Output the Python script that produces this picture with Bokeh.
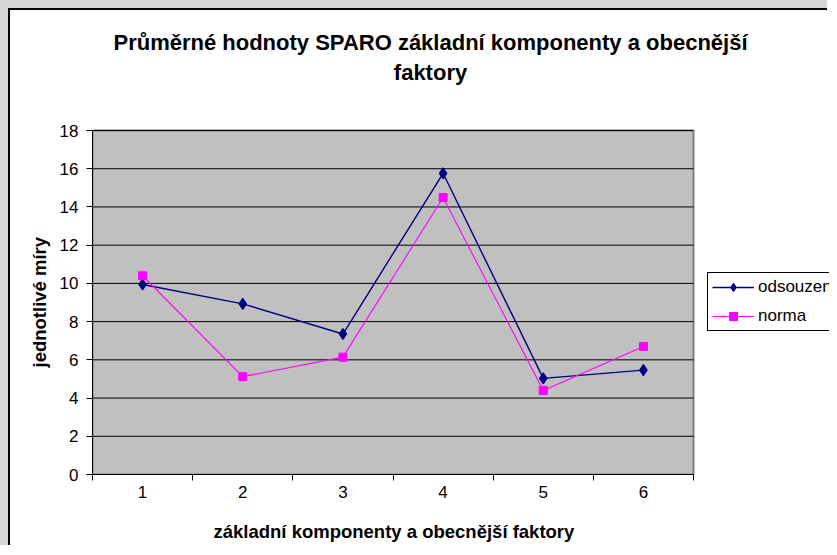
from bokeh.plotting import figure
from bokeh.layouts import column
from bokeh.models import (Range1d, FixedTicker, Legend, LegendItem, Label, BoxAnnotation, Title)
from bokeh.embed import file_html
from bokeh.resources import INLINE

# ---- data ----
categories = ["1", "2", "3", "4", "5", "6"]
odsouzeni = [9.94, 8.93, 7.35, 15.76, 5.03, 5.46]
norma = [10.40, 5.12, 6.14, 14.49, 4.40, 6.70]
y_ticks = [0, 2, 4, 6, 8, 10, 12, 14, 16, 18]

title_line1 = "Průměrné hodnoty SPARO základní komponenty a obecnější"
title_line2 = "faktory"
x_title = "základní komponenty a obecnější faktory"
y_title = "jednotlivé míry"

FONT = "Liberation Sans"

# ---- layout (pixels) ----
W, H = 819, 537            # canvas size
ML, MB = 82, 73            # left / bottom borders
PLOT_W, PLOT_H = 601, 344  # visible plot-area size
frame_w = W - ML
frame_h = H - MB

xs = list(range(1, len(categories) + 1))
x0, x1 = 0.5, len(categories) + 0.5
y0, y1 = y_ticks[0], y_ticks[-1]
x_end = x0 + (x1 - x0) * frame_w / PLOT_W
y_end = y0 + (y1 - y0) * frame_h / PLOT_H

p = figure(width=W, height=H, output_backend="svg", toolbar_location=None,
           x_range=Range1d(x0, x_end), y_range=Range1d(y0, y_end),
           min_border_left=ML, min_border_right=0, min_border_top=0,
           min_border_bottom=MB)
p.styles = {"border-left": "2px solid #000000", "border-top": "2px solid #000000"}
p.background_fill_color = "#FFFFFF"
p.border_fill_color = "#FFFFFF"
p.outline_line_color = None
p.xgrid.grid_line_color = None
p.ygrid.grid_line_color = None

# plot area
p.add_layout(BoxAnnotation(left=x0, right=x1, bottom=y0, top=y1,
                           fill_color="#C0C0C0", fill_alpha=1,
                           line_color="#808080", line_width=2, line_alpha=1,
                           level="underlay"))
p.segment(x0=[x0] * len(y_ticks), x1=[x1] * len(y_ticks), y0=y_ticks, y1=y_ticks,
          line_color="#000000", line_width=1)

# chart title (two lines)
for txt, yy in ((title_line1, 432), (title_line2, 402)):
    p.add_layout(Label(x=338, y=yy, x_units="screen", y_units="screen", text=txt,
                       text_align="center", text_baseline="alphabetic",
                       text_font=FONT, text_font_size="22px", text_font_style="bold",
                       text_color="#000000"))

# x axis
p.xaxis.bounds = (x0, x1)
p.xaxis.ticker = FixedTicker(ticks=xs, minor_ticks=[x - 0.5 for x in xs] + [x1])
p.xaxis.major_label_overrides = {x: c for x, c in zip(xs, categories)}
p.xaxis.major_tick_out = 0
p.xaxis.major_tick_in = 0
p.xaxis.minor_tick_out = 6
p.xaxis.minor_tick_in = 0
p.xaxis.minor_tick_line_color = "#000000"
p.xaxis.axis_line_color = "#000000"
p.xaxis.major_label_text_font = FONT
p.xaxis.major_label_text_font_size = "17px"
p.xaxis.major_label_text_color = "#000000"
p.xaxis.major_label_standoff = 5
# spacer so that the x title sits at the right depth
p.xaxis.axis_label = " "
p.xaxis.axis_label_text_font_size = "1px"
p.xaxis.axis_label_standoff = 13

# y axis
p.yaxis.bounds = (y0, y1)
p.yaxis.ticker = FixedTicker(ticks=y_ticks)
p.yaxis.minor_tick_line_color = None
p.yaxis.major_tick_out = 6
p.yaxis.major_tick_in = 0
p.yaxis.major_tick_line_color = "#000000"
p.yaxis.axis_line_color = "#000000"
p.yaxis.major_label_text_font = FONT
p.yaxis.major_label_text_font_size = "17px"
p.yaxis.major_label_text_color = "#000000"
p.yaxis.major_label_standoff = 8

# axis titles, centred on the visible plot area
p.add_layout(Title(text=x_title, align="left", offset=121, standoff=2,
                   text_font=FONT, text_font_size="18.5px", text_font_style="bold",
                   text_color="#000000"), "below")
p.add_layout(Title(text=y_title, align="left", offset=107, standoff=14,
                   text_font=FONT, text_font_size="18.5px", text_font_style="bold",
                   text_color="#000000"), "left")

# series
l1 = p.line(xs, odsouzeni, line_color="#000080", line_width=1.4)
m1 = p.scatter(xs, odsouzeni, marker="diamond", size=11, line_width=1.2,
               fill_color="#000080", line_color="#000080")
l2 = p.line(xs, norma, line_color="#FF00FF", line_width=1.1)
m2 = p.scatter(xs, norma, marker="square", size=8, fill_color="#FF00FF",
               line_color="#FF00FF")

legend = Legend(items=[LegendItem(label="odsouzeni", renderers=[l1, m1]),
                       LegendItem(label="norma", renderers=[l2, m2])],
                location=(615, 143), orientation="vertical")
legend.label_text_font = FONT
legend.label_text_font_size = "17px"
legend.label_text_color = "#000000"
legend.border_line_color = "#000000"
legend.border_line_width = 1
legend.border_line_alpha = 1
legend.background_fill_color = "#FFFFFF"
legend.background_fill_alpha = 1
legend.glyph_width = 42
legend.glyph_height = 20
legend.label_height = 20
legend.label_standoff = 4
legend.padding = 4
legend.spacing = 9
legend.margin = 0
p.add_layout(legend, "center")

root = column(p, styles={"border-left": "8px solid #D6D6D6",
                         "border-top": "8px solid #D6D6D6"})

html = file_html(root, INLINE)
open("out.html", "w").write(html)
